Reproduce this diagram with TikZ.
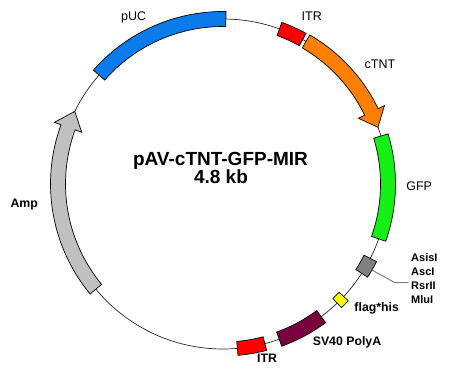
\documentclass[tikz,border=0pt]{standalone}
\usepackage{fontspec}
\setmainfont{Liberation Sans}
\definecolor{pucblue}{RGB}{10,123,235}
\definecolor{itrred}{RGB}{255,0,0}
\definecolor{ctntorange}{RGB}{255,128,0}
\definecolor{gfpgreen}{RGB}{20,240,20}
\definecolor{sv40}{RGB}{122,0,64}
\definecolor{ampgray}{RGB}{192,192,192}
\definecolor{boxgray}{RGB}{128,128,128}
\definecolor{flagyellow}{RGB}{255,255,0}
\definecolor{circline}{RGB}{40,40,40}
\newcommand\bandseg[4]{%
  \draw[seg, fill=#1] (#2:{165+#4}) arc[start angle=#2, end angle=#3, radius={165+#4}]
    -- (#3:{165-#4}) arc[start angle=#3, end angle=#2, radius={165-#4}] -- cycle;}
\newcommand\arrowseg[4]{%
  \draw[seg, fill=#1] (#2:172.5) arc[start angle=#2, end angle=#3, radius=172.5]
    -- (#3:179.5) -- (#4:165) -- (#3:150.5) -- (#3:157.5)
    arc[start angle=#3, end angle=#2, radius=157.5] -- cycle;}
\tikzset{
  seg/.style={draw=black, line width=0.7pt, line join=miter},
  lbl/.style={font=\fontsize{12.5}{14}\selectfont, anchor=base, inner sep=0pt},
  blbl/.style={font=\bfseries\fontsize{12.3}{14}\selectfont, anchor=base, inner sep=0pt},
  ttl/.style={font=\bfseries\fontsize{19}{21}\selectfont, anchor=base, inner sep=0pt},
}
\begin{document}
\begin{tikzpicture}[x=1pt,y=1pt]
\useasboundingbox (0,0) rectangle (449,373);
\begin{scope}[shift={(223,189)}]
  \draw[circline, line width=0.7pt] (0,0) circle[radius=165];
  \bandseg{pucblue}{89}{138.7}{7.5}
  \arrowseg{ampgray}{219.6}{159.9}{153.9}
  \bandseg{itrred}{61.1}{70}{7}
  \arrowseg{ctntorange}{59.8}{25.9}{20.1}
  \bandseg{gfpgreen}{-19.4}{16.9}{7.5}
  \bandseg{boxgray}{-32.8}{-26.8}{7}
  \bandseg{flagyellow}{-46.2}{-43}{6.3}
  \bandseg{sv40}{-70.1}{-53.5}{7.5}
  \bandseg{itrred}{-85}{-75.3}{7}
  \coordinate (gb) at (-30:172);
  \coordinate (bend) at (172,-98.7);
\end{scope}
\node[ttl] (title) at (220.5,208) {pAV-cTNT-GFP-MIR};
\node[ttl] (size) at (221,189.7) {4.8 kb};
\node[lbl] (puc) at (133.7,352.5) {pUC};
\node[lbl] (itr1) at (311.7,352.3) {ITR};
\node[lbl] (ctnt) at (380,304.7) {cTNT};
\node[lbl] (gfp) at (419.2,182.2) {GFP};
\node[blbl] (amp) at (24.2,165.7) {Amp};
\node[blbl] (flag) at (376.7,61.3) {flag*his};
\node[blbl] (sv) at (347,27.3) {SV40 PolyA};
\node[blbl] (itr2) at (267,10.3) {ITR};
\node[font=\bfseries\fontsize{11}{14.1}\selectfont, align=left, anchor=west, inner sep=3pt] (enz) at (408,94.1) {AsisI\\AscI\\RsrII\\MluI};
\draw[boxgray, line width=1pt] (gb) -- (bend) -- (bend -| enz.west);
\end{tikzpicture}
\end{document}
